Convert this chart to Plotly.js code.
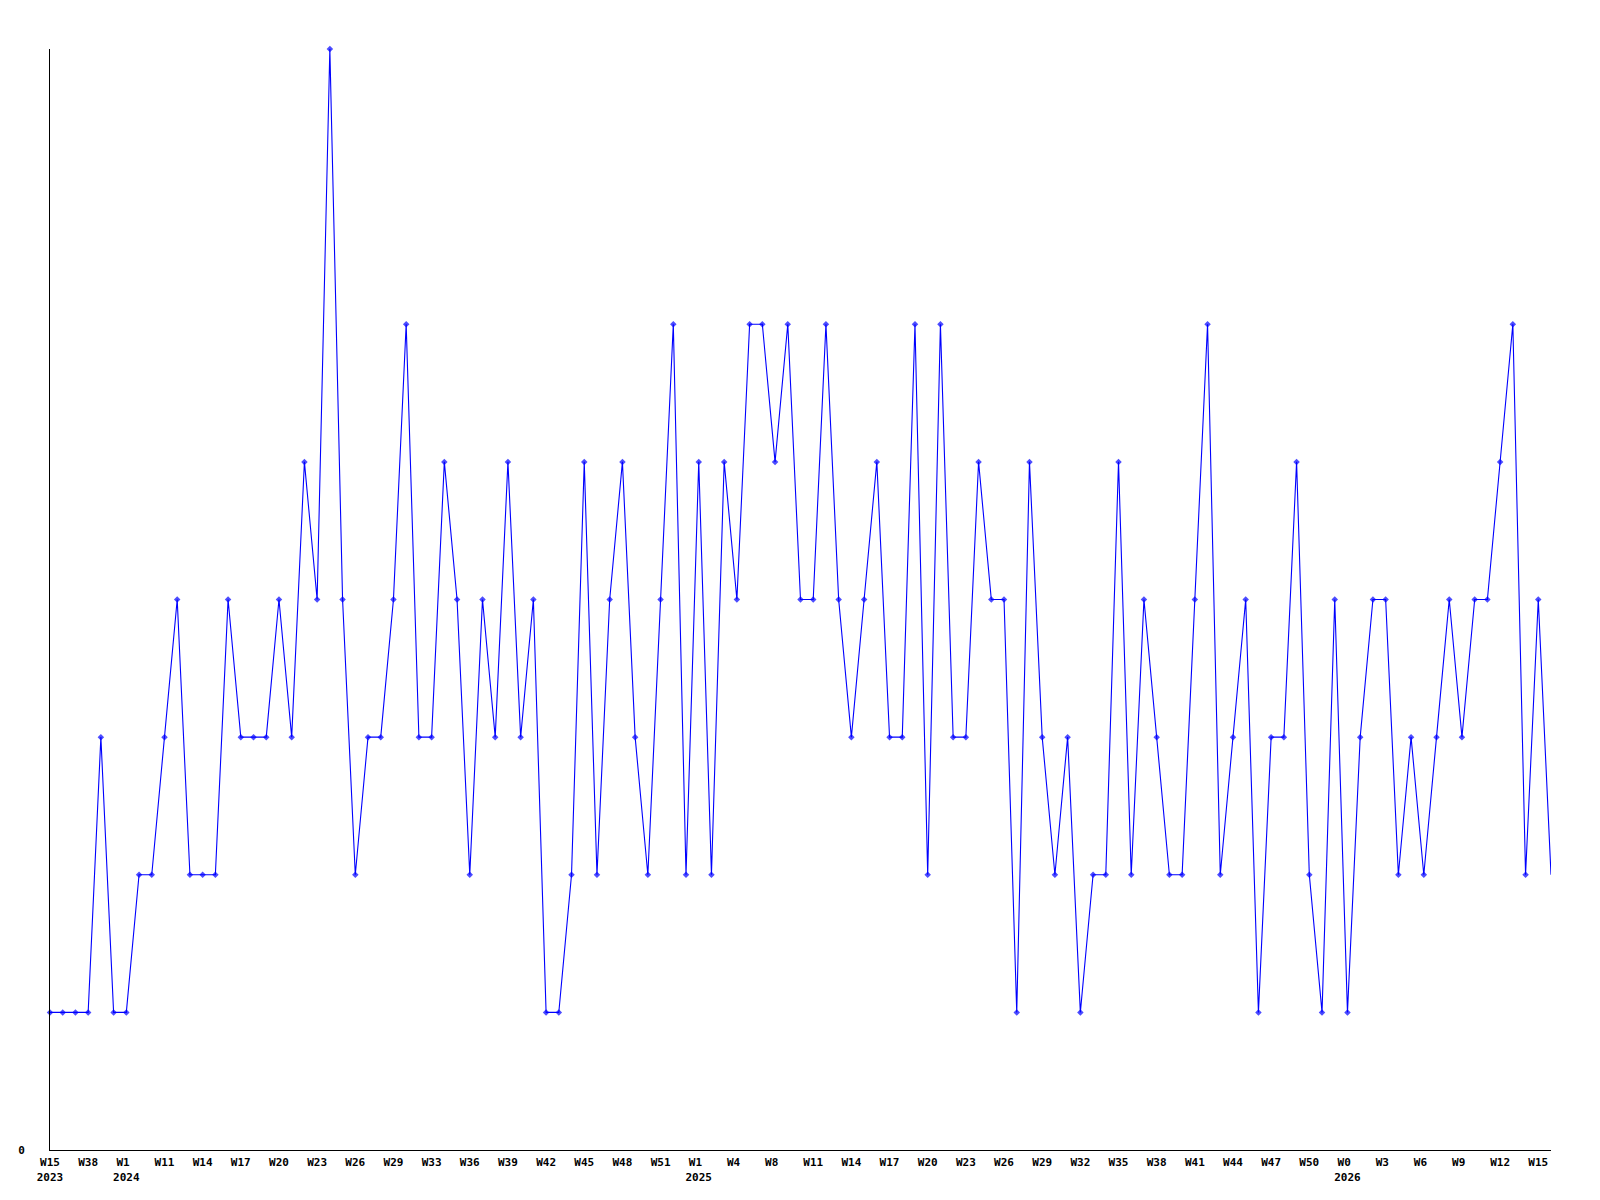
<!DOCTYPE html>
<html>
<head>
<meta charset="utf-8">
<script src="https://cdn.plot.ly/plotly-3.0.1.min.js"></script>
<style>html,body{margin:0;padding:0;background:#fff;}#chart{width:1600px;height:1200px;}</style>
</head>
<body>
<div id="chart"></div>
<script>
// Weekly values (sequential samples)
const values = [
  1,1,1,1,3,1,1,2,2,3,
  4,2,2,2,4,3,3,3,4,3,
  5,4,8,4,2,3,3,4,6,3,
  3,5,4,2,4,3,5,3,4,1,
  1,2,5,2,4,5,3,2,4,6,
  2,5,2,5,4,6,6,5,6,4,
  4,6,4,3,4,5,3,3,6,2,
  6,3,3,5,4,4,1,5,3,2,
  3,1,2,2,5,2,4,3,2,2,
  4,6,2,3,4,1,3,3,5,2,
  1,4,1,3,4,4,2,3,2,3,
  4,3,4,4,5,6,2,4,2
];
// Tick labels, one for every third sample
const weekLabels = [
  "W15","W38","W1","W11","W14","W17","W20","W23","W26","W29",
  "W33","W36","W39","W42","W45","W48","W51","W1","W4","W8",
  "W11","W14","W17","W20","W23","W26","W29","W32","W35","W38",
  "W41","W44","W47","W50","W0","W3","W6","W9","W12","W15"
];
const yearLabels = {0:"2023", 2:"2024", 17:"2025", 34:"2026"};
const tickStep = 3;

const xIdx = values.map((v, i) => i);
const tickvals = weekLabels.map((w, k) => k * tickStep);
const pad = s => s.length < 3 ? s + "\u00a0".repeat(3 - s.length) : s;
const ticktext = weekLabels.map((w, k) => yearLabels[k] ? pad(w) + "<br>" + yearLabels[k] : pad(w));
const markerSizes = values.map((v, i) => i === values.length - 1 ? 0 : 5);

const fam = "DejaVu Sans Mono, Liberation Mono, monospace";

Plotly.newPlot("chart", [{
  x: xIdx,
  y: values,
  type: "scatter",
  mode: "lines+markers",
  line: {color: "#0000ff", width: 1.1},
  marker: {symbol: "diamond", size: markerSizes, color: "#0000ff", line: {width: 0}},
  cliponaxis: false,
  hoverinfo: "skip"
}], {
  width: 1600, height: 1200,
  paper_bgcolor: "#fff", plot_bgcolor: "#fff",
  margin: {l: 50, r: 49, t: 49, b: 50},
  showlegend: false,
  font: {family: fam, size: 11, color: "#000", weight: "bold"},
  xaxis: {
    range: [0, values.length - 1],
    showgrid: false, zeroline: false,
    showline: true, linecolor: "#000", linewidth: 1,
    ticks: "", tickmode: "array", tickvals: tickvals, ticktext: ticktext,
    tickangle: 0,
    tickfont: {family: fam, size: 11, color: "#000", weight: "bold"},
    ticklabelstandoff: 2
  },
  yaxis: {
    range: [0, 8],
    showgrid: false, zeroline: false,
    showline: true, linecolor: "#000", linewidth: 1,
    ticks: "", tickmode: "array", tickvals: [0], ticktext: ["0"],
    tickfont: {family: fam, size: 11, color: "#000", weight: "bold"},
    ticklabelstandoff: 22
  }
}, {staticPlot: true});
</script>
</body>
</html>
